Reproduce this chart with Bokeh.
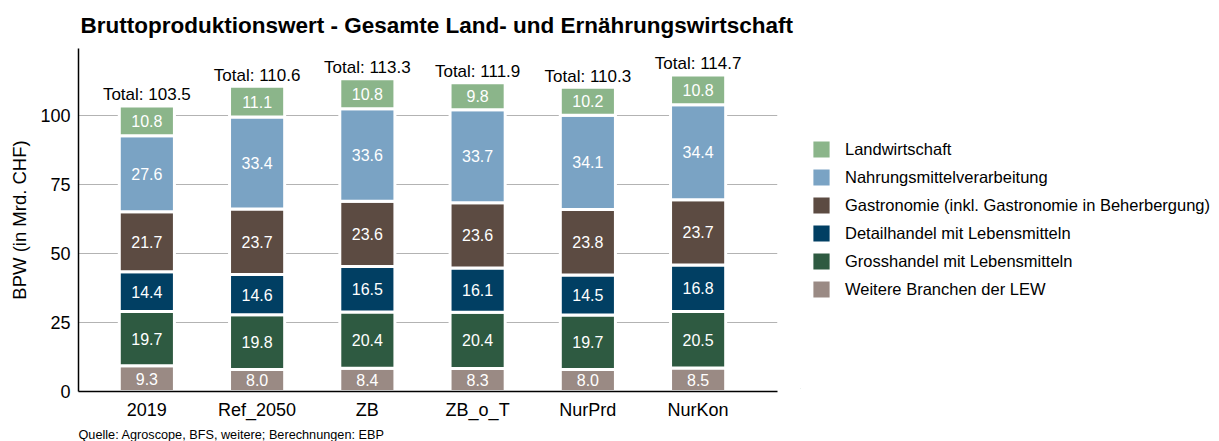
import numpy as np
from bokeh.plotting import figure
from bokeh.layouts import row
from bokeh.models import ColumnDataSource, Range1d, FixedTicker, Legend, LegendItem, Title
from bokeh.core.properties import value
from bokeh.embed import file_html
from bokeh.resources import INLINE

# ---- data ----
categories = ["2019", "Ref_2050", "ZB", "ZB_o_T", "NurPrd", "NurKon"]
weitere = [9.3, 8.0, 8.4, 8.3, 8.0, 8.5]
grosshandel = [19.7, 19.8, 20.4, 20.4, 19.7, 20.5]
detailhandel = [14.4, 14.6, 16.5, 16.1, 14.5, 16.8]
gastronomie = [21.7, 23.7, 23.6, 23.6, 23.8, 23.7]
nahrungsmittel = [27.6, 33.4, 33.6, 33.7, 34.1, 34.4]
landwirtschaft = [10.8, 11.1, 10.8, 9.8, 10.2, 10.8]
totals = [103.5, 110.6, 113.3, 111.9, 110.3, 114.7]
y_ticks = [0, 25, 50, 75, 100]

series_names = ["Weitere Branchen der LEW", "Grosshandel mit Lebensmitteln",
                "Detailhandel mit Lebensmitteln",
                "Gastronomie (inkl. Gastronomie in Beherbergung)",
                "Nahrungsmittelverarbeitung", "Landwirtschaft"]
series_values = [weitere, grosshandel, detailhandel, gastronomie, nahrungsmittel, landwirtschaft]
colors = ["#9a8a84", "#2e5a41", "#013f63", "#5c4b42", "#7aa3c4", "#8bb58a"]

FONT = "Liberation Sans"

xpos = list(range(len(categories)))
keys = ["s%d" % i for i in range(len(series_values))]
data = {"x": xpos}
for k, v in zip(keys, series_values):
    data[k] = v
src = ColumnDataSource(data)

# ---------------- main chart ----------------
p = figure(frame_width=699, frame_height=343, output_backend="svg", toolbar_location=None,
           x_range=Range1d(-0.62, 5.72), y_range=Range1d(0, 124.3),
           min_border_left=78, min_border_right=23, min_border_top=47, min_border_bottom=0)
p.background_fill_color = "white"
p.border_fill_color = "white"
p.outline_line_color = None

renderers = p.vbar_stack(keys, x="x", width=0.5, source=src, color=colors,
                         line_color="white", line_width=3)

# segment labels
lx, ly, lt = [], [], []
cum = np.zeros(len(categories))
for v in series_values:
    arr = np.array(v)
    for i in range(len(categories)):
        lx.append(xpos[i])
        ly.append(cum[i] + arr[i] / 2)
        lt.append("%.1f" % arr[i])
    cum += arr
p.text(x=lx, y=ly, text=lt, text_color="white", text_align="center",
       text_baseline="middle", text_font_size="16px", text_font=value(FONT))

# totals
p.text(x=xpos, y=totals, text=["Total: %.1f" % t for t in totals], text_color="black",
       text_align="center", text_baseline="alphabetic", y_offset=-11,
       text_font_size="17px", text_font=value(FONT))

# axes
p.xaxis.ticker = FixedTicker(ticks=xpos)
p.xaxis.major_label_overrides = {i: c for i, c in zip(xpos, categories)}
p.yaxis.ticker = FixedTicker(ticks=y_ticks)
for ax in (p.xaxis, p.yaxis):
    ax.major_tick_line_color = None
    ax.minor_tick_line_color = None
    ax.major_tick_out = 0
    ax.major_tick_in = 0
    ax.minor_tick_out = 0
    ax.axis_line_color = "black"
    ax.axis_line_width = 1.5
    ax.major_label_text_font = FONT
    ax.major_label_text_font_size = "18px"
    ax.major_label_text_color = "black"
    ax.major_label_standoff = 8
p.yaxis.axis_label = "BPW (in Mrd. CHF)"
p.yaxis.axis_label_text_font = FONT
p.yaxis.axis_label_text_font_size = "18.5px"
p.yaxis.axis_label_text_font_style = "normal"
p.yaxis.axis_label_text_color = "black"
p.yaxis.axis_label_standoff = 7

p.xgrid.grid_line_color = None
p.ygrid.ticker = FixedTicker(ticks=y_ticks[1:])
p.ygrid.grid_line_color = "#b3b3b3"
p.ygrid.grid_line_width = 1

# title
p.title.text = "Bruttoproduktionswert - Gesamte Land- und Ernährungswirtschaft"
p.title.text_font = FONT
p.title.text_font_size = "22.5px"
p.title.text_font_style = "bold"
p.title.align = "left"
p.title.offset = 2
p.title.standoff = 21
p.title.text_color = "black"

# caption
cap = Title(text="Quelle: Agroscope, BFS, weitere; Berechnungen: EBP", align="left",
            text_font=FONT, text_font_size="12.7px", text_font_style="normal",
            text_color="black", standoff=6, offset=0)
p.add_layout(cap, "below")

# ---------------- legend panel ----------------
lg = figure(width=419, height=441, output_backend="svg", toolbar_location=None,
            x_range=Range1d(100, 101), y_range=Range1d(1000, 1001),
            x_axis_location=None, y_axis_location=None,
            min_border_left=0, min_border_right=0, min_border_top=0, min_border_bottom=0)
lg.grid.visible = False
lg.outline_line_color = None
lg.background_fill_color = "white"
lg.border_fill_color = "white"
lg_renderers = lg.vbar_stack(keys, x="x", width=0.5, source=src, color=colors,
                             line_color="white", line_width=3)

items = [LegendItem(label=n, renderers=[r]) for n, r in zip(series_names, lg_renderers)]
items = items[::-1]
leg = Legend(items=items, location=(9, 87), glyph_width=24, glyph_height=24,
             spacing=4, label_standoff=12, padding=0, margin=0,
             border_line_color=None, background_fill_alpha=0,
             label_text_font=FONT, label_text_font_size="16.5px", label_text_color="black")
lg.add_layout(leg, "center")

layout = row(p, lg, spacing=0)
open("out.html", "w").write(file_html(layout, INLINE))
